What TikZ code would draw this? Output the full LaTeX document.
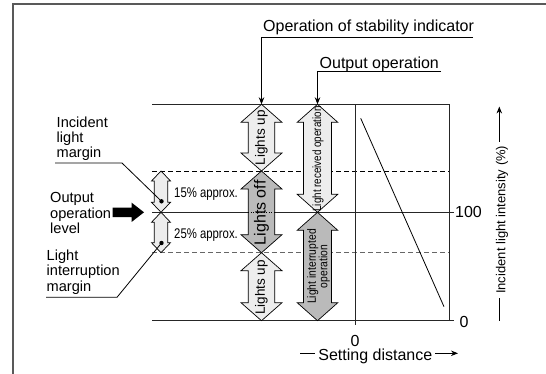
\documentclass[tikz,border=0pt]{standalone}
\usepackage{fontspec}
\setmainfont{Liberation Sans}
\usetikzlibrary{arrows.meta}
\definecolor{lightfill}{gray}{0.93}
\definecolor{darkfill}{gray}{0.73}
\definecolor{framegray}{gray}{0.35}
\tikzset{
  plotline/.style={draw=black!85, line width=0.8pt},
  dashline/.style={draw=black, line width=0.8pt, dash pattern=on 5pt off 3pt},
  graydash/.style={draw=black!60, line width=0.9pt, dash pattern=on 5pt off 3pt},
  dblarrow/.style={draw=black, line width=0.7pt, line join=miter},
  calline/.style={draw=black, line width=0.8pt},
  caltip/.style={-{Stealth[length=7pt,width=5.5pt]}},
  biglbl/.style={inner sep=0pt, anchor=base west, font=\fontsize{16}{18}\selectfont},
  sidelbl/.style={inner sep=0pt, anchor=base west, font=\fontsize{14.6}{16}\selectfont},
  pctlbl/.style={inner sep=0pt, anchor=base west, font=\fontsize{14}{16}\selectfont},
  rotlbl/.style={inner sep=0pt, rotate=90, font=\fontsize{13.5}{15}\selectfont},
  smallrot/.style={inner sep=0pt, rotate=90, align=center, font=\fontsize{12}{11.3}\selectfont},
}
\newcommand{\dblarr}[8]{%
  \filldraw[dblarrow, fill=#8] (#2,#3) -- ({#2+#6},{#3+#7}) -- ({#2+#5},{#3+#7}) -- ({#2+#5},{#4-#7}) -- ({#2+#6},{#4-#7}) -- (#2,#4) -- ({#2-#6},{#4-#7}) -- ({#2-#5},{#4-#7}) -- ({#2-#5},{#3+#7}) -- ({#2-#6},{#3+#7}) -- cycle;
  \coordinate (#1) at (#2,{(#3+#4)/2});
  \coordinate (#1n) at (#2,#3);
}
\begin{document}
\begin{tikzpicture}[x=1pt,y=-1pt]
\useasboundingbox (0,0) rectangle (546,373);
% frame
\draw[framegray, line width=1.4pt] (13,380) -- (13,4) -- (560,4);

% plot lines
\draw[plotline] (152,104.3) -- (449.3,104.3);
\draw[plotline] (152,320.7) -- (454,320.7);
\draw[plotline] (152,212.3) -- (454,212.3);
\draw[dashline] (152,171) -- (449.3,171);
\draw[graydash] (152,252.7) -- (449.3,252.7);
\draw[plotline] (355,104.3) -- (355,325);
\draw[plotline] (449.3,104.3) -- (449.3,320.7);
\draw[black, line width=0.8pt] (360.7,118.3) -- (444,306.7);

% double arrows
\dblarr{m1}{161}{171}{212.3}{6.7}{9.5}{10}{lightfill}
\dblarr{m2}{161}{212.3}{252.7}{6.7}{9.5}{10}{lightfill}
\dblarr{s1}{261.5}{104.3}{171}{13.3}{20.5}{18}{lightfill}
\dblarr{s2}{261.5}{171}{252.7}{13.3}{20.5}{18}{darkfill}
\dblarr{s3}{261.5}{252.7}{320.7}{13.3}{20.5}{18}{lightfill}
\dblarr{o1}{317.5}{104.3}{212.3}{14}{20.3}{18}{lightfill}
\dblarr{o2}{317.5}{212.3}{320.7}{14}{20.3}{18}{darkfill}
\draw[black, line width=0.6pt, dotted] (248,212.3) -- (275,212.3);

% arrow texts
\node[rotlbl] (t1) at (261.5,137.7) {Lights up};
\node[rotlbl, font=\fontsize{16}{17}\selectfont] (t2) at (261.5,212.8) {Lights off};
\node[rotlbl] (t3) at (261.5,287.5) {Lights up};
\node[smallrot] (t4) at (318,159) {\scalebox{0.82}[1]{Light received operation}};
\node[smallrot] (t5) at (318.5,266.5) {\scalebox{0.86}[1]{Light interrupted}\\\scalebox{0.86}[1]{operation}};

% dots on margin arrows
\fill (161.5,201.3) circle (2.2pt) coordinate (d1);
\fill (161.5,243) circle (2.2pt) coordinate (d2);

% percent labels
\node[pctlbl] (p1) at (174,197.5) {\scalebox{0.81}[1]{15\% approx.}};
\node[pctlbl] (p2) at (174,238.5) {\scalebox{0.81}[1]{25\% approx.}};

% left labels
\node[sidelbl] (a1) at (56.5,127) {Incident};
\node[sidelbl] (a2) at (56.5,142.3) {light};
\node[sidelbl] (a3) at (56.5,157.6) {margin};
\coordinate (ua) at (55,163);
\coordinate (ua2) at (122,163);
\draw[calline] (ua) -- (ua2) -- (d1);

\node[sidelbl] (b1) at (50,202.5) {Output};
\node[sidelbl] (b2) at (50,218) {operation};
\node[sidelbl] (b3) at (50,233.5) {level};
\fill (112.5,207.7) -- (131.7,207.7) -- (131.7,202.7) -- (144,212.3) -- (131.7,221.9) -- (131.7,217) -- (112.5,217) -- cycle;

\node[sidelbl] (c1) at (46.5,260) {Light};
\node[sidelbl] (c2) at (46.5,275.5) {interruption};
\node[sidelbl] (c3) at (46.5,291) {margin};
\coordinate (uc) at (46,297.3);
\coordinate (uc2) at (117,297.3);
\draw[calline] (uc) -- (uc2) -- (d2);

% callouts
\node[biglbl] (k1) at (263,31.5) {Operation of stability indicator};
\coordinate (k1e) at (473,37.3);
\draw[calline, caltip] (k1e) -- (k1e -| s1n) -- (s1n);
\node[biglbl] (k2) at (319.5,68) {Output operation};
\coordinate (k2e) at (441,71.7);
\draw[calline, caltip] (k2e) -- (k2e -| o1n) -- (o1n);

% axis labels
\node[biglbl, anchor=west] (h100) at (455,212.3) {100};
\node[biglbl, anchor=west] (h0) at (459.5,322) {0};
\node[biglbl, anchor=center] (v0) at (355,340.5) {0};
\node[biglbl, anchor=base, inner xsep=3pt, inner ysep=0pt] (sd) at (375.3,360.5) {Setting distance};
\coordinate (sdl) at (300,353.3);
\coordinate (sdr) at (458,353.3);
\draw[calline] (sdl) -- (sdl -| sd.west);
\draw[calline, caltip] (sdl -| sd.east) -- (sdr);

\node[rotlbl, font=\fontsize{13}{14}\selectfont, inner sep=4pt] (ax) at (502,219.8) {Incident light intensity (\%)};
\coordinate (axb) at (499.3,320.5);
\coordinate (axt) at (499.3,106.5);
\draw[calline] (axb) -- (axb |- ax.west);
\draw[calline, caltip] (axt |- ax.east) -- (axt);
\end{tikzpicture}
\end{document}
